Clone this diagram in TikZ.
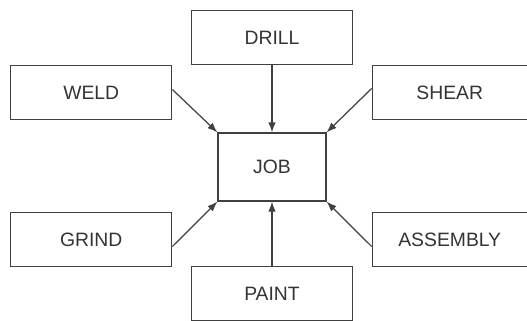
\documentclass[tikz,border=0pt]{standalone}
\usepackage{fontspec}
\setmainfont{Liberation Sans}
\usepackage{tikz}
\usetikzlibrary{arrows.meta, positioning}

\begin{document}
\begin{tikzpicture}[
        node distance=1.3cm and 0.9cm,
        process/.style={rectangle, draw=black!75, line width=0.7pt, minimum width=3.22cm, minimum height=1.09cm, inner sep=0pt, text=black!80, font=\fontsize{11}{13}\selectfont},
        job/.style={process, minimum width=2.16cm, minimum height=1.36cm},
        arrow/.style={-{Latex[length=2mm, width=1.5mm]}, line width=0.7pt, color=black!75}
    ]

    \useasboundingbox (-5.44,-3.06) rectangle (5.10,3.34);

    % Centre
    \node[job] (job) at (0,0) {JOB};

    % Top and bottom
    \node[process] (drill) [above=1.34cm of job] {DRILL};
    \node[process] (paint) [below=1.28cm of job] {PAINT};

    % Left side
    \node[process] (weld) [above left=0.24cm and 0.9cm of job] {WELD};
    \node[process] (grind) [below left=0.2cm and 0.9cm of job] {GRIND};

    % Right side
    \node[process, minimum width=3.1cm] (shear) [above right=0.24cm and 0.9cm of job] {SHEAR};
    \node[process, minimum width=3.1cm] (assembly) [below right=0.2cm and 0.9cm of job] {ASSEMBLY};

    % Connections
    \draw[arrow] (drill.south) -- (job.north);
    \draw[arrow] (paint.north) -- (job.south);
    \draw[arrow] ([yshift=0.06cm]weld.east) -- (job.north west);
    \draw[arrow] ([yshift=0.08cm]shear.west) -- (job.north east);
    \draw[arrow] ([yshift=-0.14cm]grind.east) -- (job.south west);
    \draw[arrow] ([yshift=-0.14cm]assembly.west) -- (job.south east);

\end{tikzpicture}
\end{document}
